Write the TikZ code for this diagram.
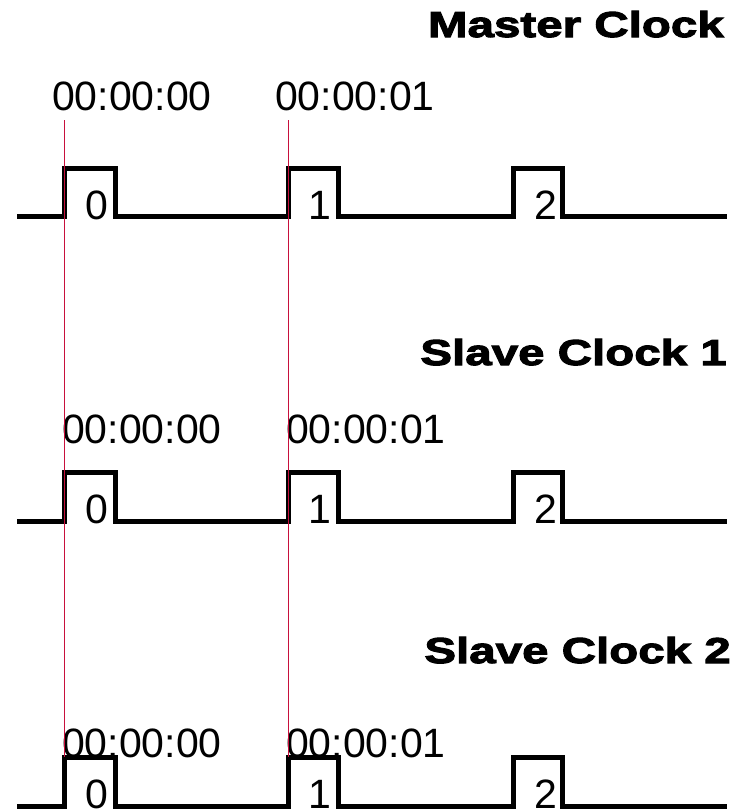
\documentclass[tikz,border=0pt]{standalone}
\usepackage{fontspec}
\setmainfont{Liberation Sans}
\newfontfamily\titlefont[FakeStretch=1.32,FakeBold=3]{Liberation Sans}
\definecolor{markred}{RGB}{200,16,60}
\tikzset{
  wave/.style={line width=5pt, line join=miter},
  stamp/.style={font=\fontsize{41}{41}\selectfont, anchor=base west, inner sep=0pt},
  pulselabel/.style={font=\fontsize{41}{41}\selectfont, anchor=base, inner sep=0pt},
  clocktitle/.style={font=\titlefont\bfseries\fontsize{36}{36}\selectfont, anchor=base east, inner sep=0pt},
  markline/.style={draw=markred, line width=1.8pt}
}
\begin{document}
\begin{tikzpicture}[x=1pt,y=-1pt]
\useasboundingbox (0,0) rectangle (750,809);

% titles
\node[clocktitle] (mtitle) at (724,37) {Master Clock};
\node[clocktitle] (stitle) at (727,365) {Slave Clock 1};
\node[clocktitle] (ttitle) at (731,663) {Slave Clock 2};

% time stamps
\node[stamp] (mstamp0) at (52,110) {00:00:00};
\node[stamp] (mstamp1) at (275,110) {00:00:01};
\node[stamp] (sstamp0) at (62,443) {00:00:00};
\node[stamp] (sstamp1) at (286,443) {00:00:01};
\node[stamp] (tstamp0) at (62,757) {00:00:00};
\node[stamp] (tstamp1) at (286,757) {00:00:01};

% waveforms
\foreach \r/\hi/\lo in {m/168/216.5, s/472/521, t/757/806}{
  \draw[wave] (17,\lo) -- (64,\lo) -- (64,\hi) -- (115,\hi) -- (115,\lo)
    -- (288.5,\lo) -- (288.5,\hi) -- (338,\hi) -- (338,\lo)
    -- (513,\lo) -- (513,\hi) -- (562,\hi) -- (562,\lo) -- (727,\lo);
  \node[pulselabel] (\r p0) at (96.5,\lo+2.5) {0};
  \node[pulselabel] (\r p1) at (320,\lo+2.5) {1};
  \node[pulselabel] (\r p2) at (546,\lo+2.5) {2};
}

% marker lines
\coordinate (a0) at (64.5,120);
\coordinate (b0) at (64.5,757);
\coordinate (a1) at (288.5,120);
\coordinate (b1) at (288.5,757);
\draw[markline] (a0) -- (b0);
\draw[markline] (a1) -- (b1);
\end{tikzpicture}
\end{document}
